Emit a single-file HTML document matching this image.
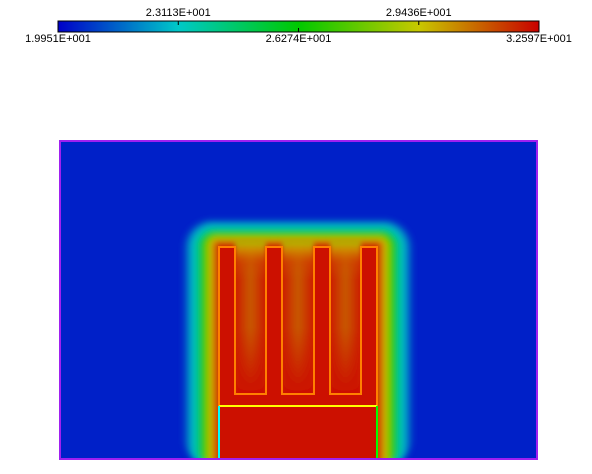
<!DOCTYPE html>
<html><head><meta charset="utf-8"><style>
html,body{margin:0;background:#fff;width:592px;height:474px;overflow:hidden;font-family:"Liberation Sans",sans-serif}
svg{display:block}
</style></head><body>
<svg width="592" height="474">
<defs>
<linearGradient id="cb" x1="0" x2="1" y1="0" y2="0">
<stop offset="0" stop-color="#0000c8"/><stop offset="0.25" stop-color="#00c8c8"/>
<stop offset="0.5" stop-color="#00c800"/><stop offset="0.75" stop-color="#c8c800"/>
<stop offset="1" stop-color="#c80000"/></linearGradient>
<filter id="bl" x="-20%" y="-20%" width="140%" height="140%"><feGaussianBlur stdDeviation="3"/></filter>
<filter id="bl2" x="-50%" y="-20%" width="200%" height="140%"><feGaussianBlur stdDeviation="2.5"/></filter>
<clipPath id="dom"><rect x="60" y="141" width="477" height="318"/></clipPath>
<linearGradient id="gapH" x1="0" x2="1"><stop offset="0" stop-color="#cc1800"/><stop offset="0.5" stop-color="#c85a00"/><stop offset="1" stop-color="#cc1800"/></linearGradient>
<linearGradient id="gapV" x1="0" x2="0" y1="0" y2="1"><stop offset="0" stop-color="#a8c000" stop-opacity="1"/><stop offset="0.06" stop-color="#d09000" stop-opacity="0.9"/><stop offset="0.14" stop-color="#d05000" stop-opacity="0.5"/><stop offset="0.25" stop-color="#c86000" stop-opacity="0"/></linearGradient>
<linearGradient id="gapB" x1="0" x2="0" y1="0" y2="1"><stop offset="0.55" stop-color="#cc1000" stop-opacity="0"/><stop offset="0.95" stop-color="#cc1000" stop-opacity="1"/></linearGradient>
</defs>
<g>
<rect x="58" y="21" width="481" height="11" fill="url(#cb)" stroke="#000" stroke-width="1"/>
<g id="cbticks"></g>
</g>
<g clip-path="url(#dom)">
<rect x="60" y="141" width="477" height="318" fill="#0020c8"/>
<g filter="url(#bl)" id="glow"></g>
<g id="gaps" filter="url(#bl2)"></g>
<path id="body" fill="#cc1000" d=""/>
</g>
<g fill="none" stroke-width="2">
<path id="fins" stroke="#ff8000" d=""/>
<line x1="219" y1="406" x2="377" y2="406" stroke="#ffff00"/>
<line x1="219" y1="406" x2="219" y2="459" stroke="#00ffff"/>
<line x1="377" y1="406" x2="377" y2="459" stroke="#00ff00"/>
<line x1="219" y1="459" x2="377" y2="459" stroke="#ff0000"/>
</g>
<rect x="60" y="141" width="477" height="318" fill="none" stroke="#a020f0" stroke-width="2"/>
</svg>
<script>
const tickValues=[19.951,23.113,26.274,29.436,32.597];
const tickLabels=["1.9951E+001","2.3113E+001","2.6274E+001","2.9436E+001","3.2597E+001"];
const tickSide=["bottom","top","bottom","top","bottom"];
const finLeft=[219,266,314,361];
const NS="http://www.w3.org/2000/svg";
const x0=58,x1=539;
const sx=v=>x0+(v-tickValues[0])/(tickValues[4]-tickValues[0])*(x1-x0);
const tg=document.getElementById('cbticks');
tickValues.forEach((v,i)=>{
 const x=sx(v);
 if(i>0&&i<4){const l=document.createElementNS(NS,'line');
 l.setAttribute('x1',x);l.setAttribute('x2',x);l.setAttribute('y1',tickSide[i]=='top'?21:28);l.setAttribute('y2',tickSide[i]=='top'?25:32);l.setAttribute('stroke','#000');
 
 
 tg.appendChild(l);}
 const t=document.createElementNS(NS,'text');
 t.setAttribute('x',x);t.setAttribute('y',tickSide[i]=='top'?16:42);t.setAttribute('text-anchor','middle');t.setAttribute('font-size','11');
 t.textContent=tickLabels[i];
 
 
 tg.appendChild(t);
});
const layers=[[36,"#0048c8"],[31,"#0090c8"],[27,"#00c0b8"],[22,"#00c860"],[18,"#20c800"],[13,"#90c800"],[9,"#d0a000"],[5,"#d05800"],[2,"#cc2000"]];
const gl=document.getElementById('glow');
layers.forEach(([d,c])=>{const r=document.createElementNS(NS,'rect');
 const y=245-d*0.72;
 r.setAttribute('x',219-d);r.setAttribute('y',y);r.setAttribute('width',158+2*d);r.setAttribute('height',468-y);r.setAttribute('rx',d*0.8);r.setAttribute('fill',c);
 
 
 gl.appendChild(r);});
const gg=document.getElementById('gaps');
let p="M219 406 L219 247 ";
const w=16;
finLeft.forEach((x,i)=>{
 if(i<3){
  const gx=x+w,gw=finLeft[i+1]-x-w;
  ['url(#gapH)','url(#gapV)','url(#gapB)'].forEach(f=>{
   const g=document.createElementNS(NS,'rect');
   g.setAttribute('x',gx);g.setAttribute('y',240);g.setAttribute('width',gw);g.setAttribute('height',160);g.setAttribute('fill',f);
   
   
   gg.appendChild(g);});
 }
 p+=(i==0?"":`L${x} 394 L${x} 247 `)+`L${x+w} 247 `+(i<3?`L${x+w} 394 `:"L377 406");
});
document.getElementById('fins').setAttribute('d',p);
document.getElementById('body').setAttribute('d',p.replace("M219 406","M219 460")+" L377 460 Z");
</script>
</body></html>
